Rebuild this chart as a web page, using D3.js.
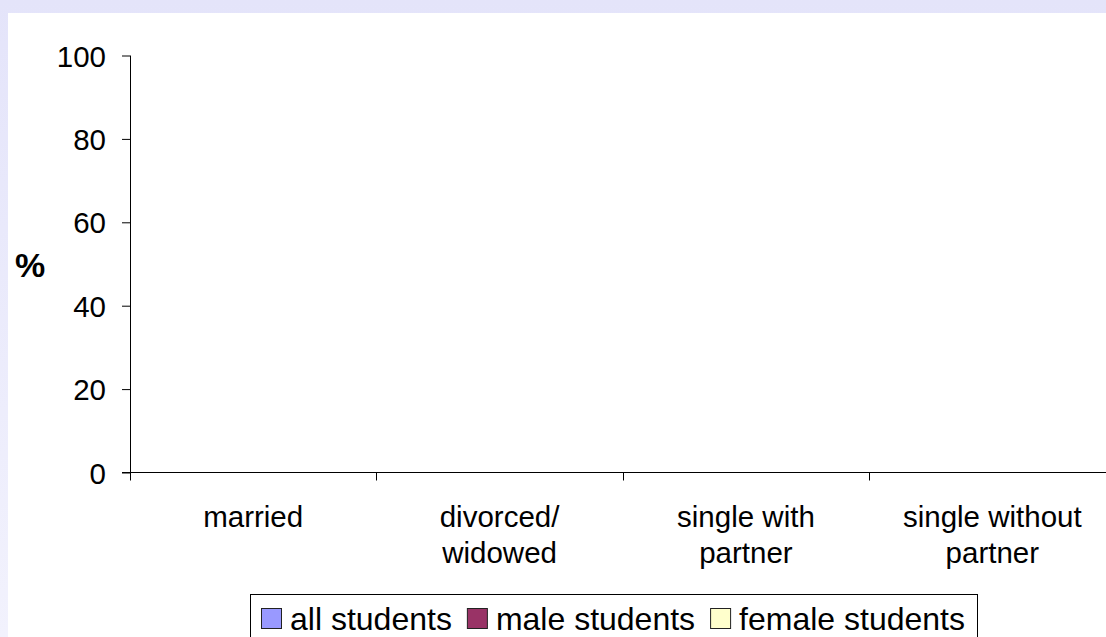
<!DOCTYPE html>
<html><head><meta charset="utf-8">
<script src="https://cdn.jsdelivr.net/npm/d3@7"></script>
<style>html,body{margin:0;padding:0;overflow:hidden;background:#fff}</style>
</head><body>
<svg id="c" width="1106" height="637"></svg>
<script>
const categories = [["married"], ["divorced/", "widowed"], ["single with", "partner"], ["single without", "partner"]];
const seriesNames = ["all students", "male students", "female students"];
const seriesColors = ["#9999ff", "#993366", "#ffffcc"];
const allStudents = [0, 0, 0, 0];
const maleStudents = [0, 0, 0, 0];
const femaleStudents = [0, 0, 0, 0];
const yTicks = [0, 20, 40, 60, 80, 100];

(function(){
const svg = d3.select("#c");
const W = 1106, H = 637;
const font = "'Liberation Sans', Arial, sans-serif";

const defs = svg.append("defs");
const g1 = defs.append("linearGradient").attr("id","bg").attr("x1",0).attr("y1",0).attr("x2",0).attr("y2",1);
g1.append("stop").attr("offset","0").attr("stop-color","#e4e4fa");
g1.append("stop").attr("offset","1").attr("stop-color","#f2f2fd");
svg.append("rect").attr("width",W).attr("height",H).attr("fill","url(#bg)");
svg.append("rect").attr("x",8).attr("y",13).attr("width",W-8).attr("height",H-13).attr("fill","#fff");

const pL = 130, pR = 1115.5, pT = 55.5, pB = 472.5;
const x = d3.scaleBand().domain(d3.range(categories.length)).range([pL, pR]);
const y = d3.scaleLinear().domain([0, 100]).range([pB, pT]);

const series = [allStudents, maleStudents, femaleStudents];
const xs = d3.scaleBand().domain(d3.range(series.length)).range([0, x.bandwidth()]).paddingOuter(0.75).paddingInner(0);
series.forEach((vals, si) => {
  svg.append("g").selectAll("rect").data(vals).join("rect")
    .attr("x", (d,i) => x(i) + xs(si))
    .attr("width", xs.bandwidth())
    .attr("y", d => y(d))
    .attr("height", d => y(0) - y(d))
    .attr("fill", seriesColors[si]).attr("stroke", "#000").attr("stroke-width", d => d > 0 ? 1 : 0);
});

// y axis
const ya = svg.append("g").attr("transform", `translate(${pL},0)`)
  .call(d3.axisLeft(y).tickValues(yTicks).tickSize(8).tickPadding(16));
ya.select(".domain").attr("stroke","#000").attr("d", `M0.5,${pT}V${pB}`);
ya.selectAll(".tick line").attr("stroke","#000");
ya.selectAll("text").attr("font-family", font).attr("font-size", 29.5).attr("fill","#000").attr("dy","0.36em");

// x axis
const xa = svg.append("g").attr("transform", `translate(0,${pB})`);
xa.append("line").attr("x1", pL - 8).attr("x2", W).attr("y1", 0).attr("y2", 0).attr("stroke","#000");
const bounds = d3.range(categories.length + 1).map(i => i < categories.length ? x(i) : x(i-1) + x.bandwidth());
xa.selectAll("line.tk").data(bounds).join("line").attr("class","tk")
  .attr("x1", d => Math.round(d)+0.5).attr("x2", d => Math.round(d)+0.5).attr("y1", 0).attr("y2", 8).attr("stroke","#000");
xa.selectAll("text").data(categories).join("text")
  .attr("x", (d,i) => x(i) + x.bandwidth()/2)
  .attr("y", 54.5)
  .attr("text-anchor","middle").attr("font-family", font).attr("font-size", 29.5).attr("fill","#000")
  .each(function(lines){
    const t = d3.select(this);
    lines.forEach((l,k) => t.append("tspan").attr("x", t.attr("x")).attr("dy", k === 0 ? 0 : 36).text(l));
  });

// y title
svg.append("text").attr("x", 30).attr("y", 277).attr("text-anchor","middle")
  .attr("font-family", font).attr("font-size", 34).attr("font-weight","bold").text("%");

// legend
const lg = svg.append("g");
lg.append("rect").attr("x", 250.5).attr("y", 594.5).attr("width", 727).attr("height", 60)
  .attr("fill","#fff").attr("stroke","#000");
let lx = 261;
seriesNames.forEach((n, i) => {
  lg.append("rect").attr("x", lx + 0.5).attr("y", 608.5).attr("width", 20).attr("height", 20)
    .attr("fill", seriesColors[i]).attr("stroke","#222");
  const t = lg.append("text").attr("x", lx + 29).attr("y", 630).attr("font-family", font).attr("font-size", 32).text(n);
  lx += 29 + t.node().getComputedTextLength() + 15;
});
})();
</script>
</body></html>
